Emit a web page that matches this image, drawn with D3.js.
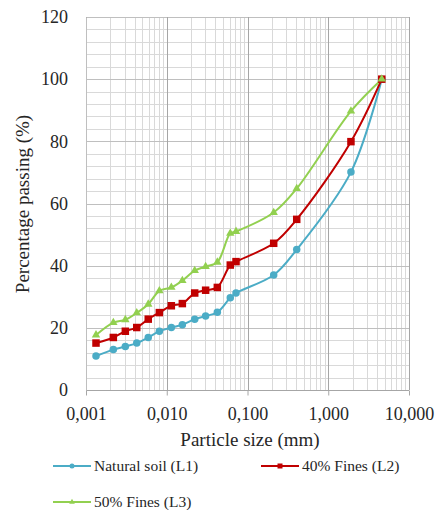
<!DOCTYPE html>
<html>
<head>
<meta charset="utf-8">
<script src="https://cdn.jsdelivr.net/npm/d3@7"></script>
<style>
  html, body { margin: 0; padding: 0; background: #fff; }
  svg { display: block; }
</style>
</head>
<body>
<svg id="chart" width="439" height="510"></svg>
<script>
// ---------- data ----------
const sizes = [0.00133, 0.00218, 0.00307, 0.00425, 0.0059, 0.0081, 0.0114, 0.0156, 0.0222, 0.0303, 0.0423, 0.0612, 0.0721, 0.211, 0.407, 1.91, 4.6];
const naturalSoil = [10.9, 13.0, 14.0, 15.1, 16.9, 18.9, 20.1, 21.0, 22.8, 23.8, 25.0, 29.7, 31.2, 37.0, 45.2, 70.1, 100];
const fines40 = [15.1, 16.9, 18.9, 20.1, 22.8, 24.9, 27.1, 27.8, 31.2, 32.1, 33.0, 40.2, 41.3, 47.2, 54.9, 79.9, 100];
const fines50 = [17.7, 21.7, 22.6, 24.8, 27.6, 31.9, 33.0, 35.2, 38.4, 39.7, 41.1, 50.4, 51.0, 57.1, 64.8, 89.7, 100];
const seriesNames = ["Natural soil (L1)", "40% Fines (L2)", "50% Fines (L3)"];
const xTickValues = [0.001, 0.01, 0.1, 1, 10];
const xTickLabels = ["0,001", "0,010", "0,100", "1,000", "10,000"];
const yTickValues = [0, 20, 40, 60, 80, 100, 120];
const xTitle = "Particle size (mm)";
const yTitle = "Percentage passing (%)";

(function () {
const FONT = '"Liberation Serif"';
// ---------- layout ----------
const svg = d3.select("#chart").style("font-family", FONT);
const pL = 86, pR = 409, pT = 17, pB = 390;
const x = d3.scaleLog().domain([0.001, 10]).range([pL, pR]);
const y = d3.scaleLinear().domain([0, 120]).range([pB, pT]);

const colors = ["#4BACC6", "#C00000", "#92D050"];
const series = [naturalSoil, fines40, fines50];

// minor grid
const minorX = [];
for (let d = 0.001; d < 10; d *= 10) for (let k = 2; k <= 9; k++) minorX.push(d * k);
const g = svg.append("g");
g.selectAll(".mx").data(minorX).enter().append("line")
  .attr("x1", d => Math.round(x(d)) + 0.5).attr("x2", d => Math.round(x(d)) + 0.5)
  .attr("y1", pT).attr("y2", pB).attr("stroke", "#d9d9d9").attr("stroke-width", 1);
const minorY = d3.range(0, 121, 4).filter(v => v % 20 !== 0);
g.selectAll(".my").data(minorY).enter().append("line")
  .attr("x1", pL).attr("x2", pR)
  .attr("y1", d => Math.round(y(d)) + 0.5).attr("y2", d => Math.round(y(d)) + 0.5)
  .attr("stroke", "#d9d9d9").attr("stroke-width", 1);
// major grid
g.selectAll(".MY").data(yTickValues).enter().append("line")
  .attr("x1", pL).attr("x2", pR)
  .attr("y1", d => Math.round(y(d)) + 0.5).attr("y2", d => Math.round(y(d)) + 0.5)
  .attr("stroke", "#bfbfbf").attr("stroke-width", 1);
g.selectAll(".MX").data(xTickValues).enter().append("line")
  .attr("x1", d => Math.round(x(d)) + 0.5).attr("x2", d => Math.round(x(d)) + 0.5)
  .attr("y1", pT).attr("y2", pB).attr("stroke", "#a6a6a6").attr("stroke-width", 1);

// x axis
const xAxis = d3.axisBottom(x).tickValues(xTickValues)
  .tickFormat((d, i) => xTickLabels[i]).tickSize(5).tickPadding(12);
const xa = svg.append("g").attr("transform", `translate(0,${pB + 0.5})`).call(xAxis)
  .attr("font-family", null).attr("font-size", null);
xa.select(".domain").attr("stroke", "#a6a6a6").attr("d", `M${pL},0H${pR}`);
xa.selectAll(".tick line").attr("stroke", "#a6a6a6");
xa.selectAll(".tick text").style("font-family", FONT).style("font-size", "18px").attr("fill", "#262626");

// y axis labels
const ya = svg.append("g").attr("transform", `translate(${pL},0)`)
  .call(d3.axisLeft(y).tickValues(yTickValues).tickSize(0).tickPadding(18))
  .attr("font-family", null).attr("font-size", null);
ya.select(".domain").attr("stroke", "#bfbfbf");
ya.selectAll(".tick text").style("font-family", FONT).style("font-size", "18px").attr("fill", "#262626");

// titles
svg.append("text").attr("x", 250).attr("y", 446).attr("text-anchor", "middle").attr("fill", "#262626")
  .style("font-family", FONT).style("font-size", "19px").text(xTitle);
svg.append("text").attr("transform", "translate(29,204) rotate(-90)").attr("text-anchor", "middle").attr("fill", "#262626")
  .style("font-family", FONT).style("font-size", "19px").text(yTitle);

// lines
const line = d3.line().x(d => x(d[0])).y(d => y(d[1])).curve(d3.curveCatmullRom.alpha(0.5));
series.forEach((vals, i) => {
  const pts = sizes.map((s, j) => [s, vals[j]]);
  svg.append("path").datum(pts).attr("d", line)
    .attr("fill", "none").attr("stroke", colors[i]).attr("stroke-width", 2);
});

// markers
function marker(sel, i, s) {
  if (i === 0) sel.append("circle").attr("r", s / 2).attr("fill", colors[i]);
  else if (i === 1) sel.append("rect").attr("x", -s / 2).attr("y", -s / 2).attr("width", s).attr("height", s).attr("fill", colors[i]);
  else sel.append("path").attr("d", d3.symbol().type(d3.symbolTriangle).size(s * s * 0.55)()).attr("fill", colors[i]);
}
series.forEach((vals, i) => {
  sizes.forEach((s, j) => {
    const mg = svg.append("g").attr("transform", `translate(${x(s)},${y(vals[j])})`);
    marker(mg, i, 7.5);
  });
});

// legend
const legendPos = [[53, 466], [261, 466], [53, 502]];
seriesNames.forEach((name, i) => {
  const [lx, ly] = legendPos[i];
  const lg = svg.append("g");
  lg.append("line").attr("x1", lx).attr("x2", lx + 38).attr("y1", ly).attr("y2", ly)
    .attr("stroke", colors[i]).attr("stroke-width", 2);
  const mg = lg.append("g").attr("transform", `translate(${lx + 19},${ly})`);
  marker(mg, i, 5);
  lg.append("text").attr("x", lx + 41).attr("y", ly + 5).attr("fill", "#262626")
    .style("font-family", FONT).style("font-size", "15.5px").text(name);
});
})();
</script>
</body>
</html>
